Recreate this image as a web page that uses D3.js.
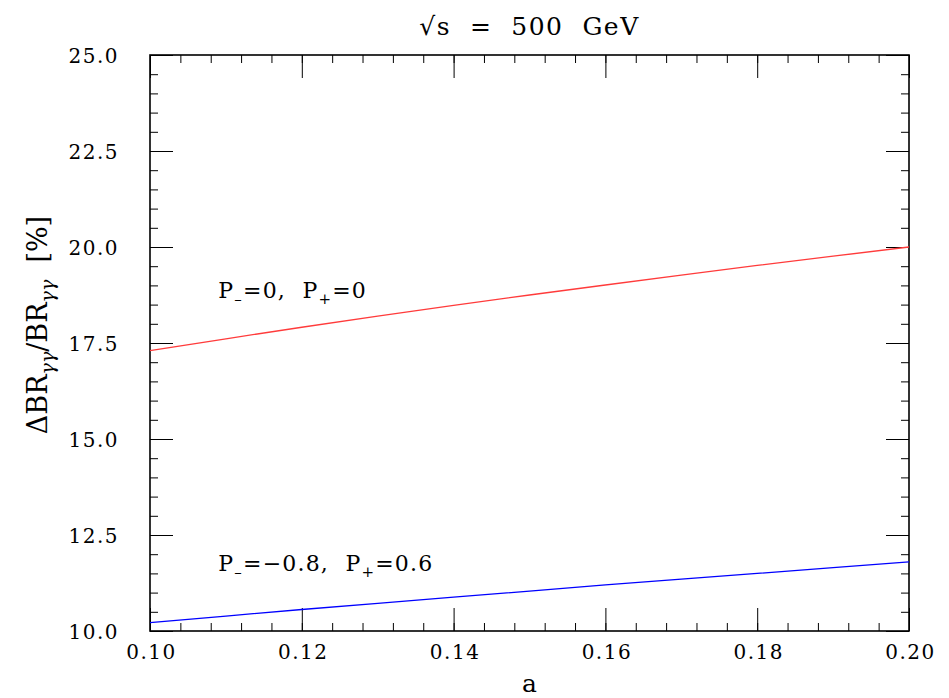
<!DOCTYPE html>
<html>
<head>
<meta charset="utf-8">
<script src="https://cdn.jsdelivr.net/npm/d3@7"></script>
<style>
  body { margin: 0; background: #fff; }
  text { font-family: "DejaVu Serif", "Liberation Serif", serif; fill: #000; }
</style>
</head>
<body>
<div id="chart"></div>
<script>
// data
var aValues = [0.10, 0.11, 0.12, 0.13, 0.14, 0.15, 0.16, 0.17, 0.18, 0.19, 0.20];
var unpolarized = [17.30, 17.61, 17.91, 18.20, 18.48, 18.75, 19.01, 19.27, 19.52, 19.76, 20.00];
var polarized = [10.22, 10.39, 10.56, 10.72, 10.88, 11.04, 11.20, 11.35, 11.50, 11.65, 11.80];

var xTicks = [0.10, 0.12, 0.14, 0.16, 0.18, 0.20];
var yTicks = [10.0, 12.5, 15.0, 17.5, 20.0, 22.5, 25.0];

// curve labels: [a, value] anchor of each label
var labelUnpol = { a: 0.109, v: 18.67 };
var labelPol = { a: 0.109, v: 11.55 };

var svgWidth = 949;
var svgHeight = 698;

var margin = { top: 55, right: 40, bottom: 67, left: 150 };
var width = 759;
var height = 576;

var svg = d3.select("#chart")
  .append("svg")
  .attr("width", svgWidth)
  .attr("height", svgHeight);

var chartGroup = svg.append("g")
  .attr("transform", `translate(${margin.left}, ${margin.top})`);

var xScale = d3.scaleLinear().domain([0.10, 0.20]).range([0, width]);
var yScale = d3.scaleLinear().domain([10, 25]).range([height, 0]);

var xMinor = d3.range(0, 26).map(i => 0.10 + i * 0.004);
var yMinor = d3.range(0, 31).map(i => 10 + i * 0.5);

function styleAxis(g) {
  g.select(".domain").remove();
  g.selectAll(".tick line").attr("stroke", "#000").attr("stroke-width", 1);
}

// minor ticks on all four sides
chartGroup.append("g")
  .attr("transform", `translate(0, ${height})`)
  .call(d3.axisBottom(xScale).tickValues(xMinor).tickSize(-8).tickFormat(""))
  .call(styleAxis);
chartGroup.append("g")
  .call(d3.axisTop(xScale).tickValues(xMinor).tickSize(-8).tickFormat(""))
  .call(styleAxis);
chartGroup.append("g")
  .call(d3.axisLeft(yScale).tickValues(yMinor).tickSize(-8).tickFormat(""))
  .call(styleAxis);
chartGroup.append("g")
  .attr("transform", `translate(${width}, 0)`)
  .call(d3.axisRight(yScale).tickValues(yMinor).tickSize(-8).tickFormat(""))
  .call(styleAxis);

// major ticks
var bottomAxis = chartGroup.append("g")
  .attr("transform", `translate(0, ${height})`)
  .call(d3.axisBottom(xScale).tickValues(xTicks).tickSize(-23).tickPadding(22).tickFormat(d3.format(".2f")))
  .call(styleAxis);
chartGroup.append("g")
  .call(d3.axisTop(xScale).tickValues(xTicks).tickSize(-23).tickFormat(""))
  .call(styleAxis);
var leftAxis = chartGroup.append("g")
  .call(d3.axisLeft(yScale).tickValues(yTicks).tickSize(-23).tickPadding(31).tickFormat(d3.format(".1f")))
  .call(styleAxis);
chartGroup.append("g")
  .attr("transform", `translate(${width}, 0)`)
  .call(d3.axisRight(yScale).tickValues(yTicks).tickSize(-23).tickFormat(""))
  .call(styleAxis);

bottomAxis.selectAll("text")
  .attr("font-size", 20)
  .attr("letter-spacing", 1.5)
  .attr("dx", 1)
  .attr("dy", "0.3em")
  .style("font-family", "DejaVu Serif");
leftAxis.selectAll("text")
  .attr("font-size", 20)
  .attr("letter-spacing", 1.5)
  .attr("dy", "0.38em")
  .style("font-family", "DejaVu Serif");

// frame
chartGroup.append("rect")
  .attr("width", width)
  .attr("height", height)
  .attr("fill", "none")
  .attr("stroke", "#000")
  .attr("stroke-width", 1.6);

// curves
var line = d3.line()
  .x((d, i) => xScale(aValues[i]))
  .y(d => yScale(d));

chartGroup.append("path")
  .datum(unpolarized)
  .attr("fill", "none")
  .attr("stroke", "#ff3b3b")
  .attr("stroke-width", 1.3)
  .attr("d", line);

chartGroup.append("path")
  .datum(polarized)
  .attr("fill", "none")
  .attr("stroke", "#0000ff")
  .attr("stroke-width", 1.3)
  .attr("d", line);

// curve labels
function polLabel(pos, pm, pp) {
  var t = chartGroup.append("text")
    .attr("x", xScale(pos.a))
    .attr("y", yScale(pos.v))
    .attr("font-size", 22)
    .attr("letter-spacing", 1.2)
    .attr("xml:space", "preserve");
  t.append("tspan").text("P");
  t.append("tspan").attr("font-size", 15).attr("dy", 6).text("\u2013");
  t.append("tspan").attr("dy", -6).text("=" + pm + ",  P");
  t.append("tspan").attr("font-size", 15).attr("dy", 6).text("+");
  t.append("tspan").attr("dy", -6).text("=" + pp);
}
polLabel(labelUnpol, "0", "0");
polLabel(labelPol, "\u22120.8", "0.6");

// title
svg.append("text")
  .attr("x", margin.left + width / 2)
  .attr("y", 35)
  .attr("text-anchor", "middle")
  .attr("font-size", 25)
  .attr("letter-spacing", 1.5)
  .attr("xml:space", "preserve")
  .text("\u221As  =  500  GeV");

// x label
svg.append("text")
  .attr("x", margin.left + width / 2)
  .attr("y", 692)
  .attr("text-anchor", "middle")
  .attr("font-size", 25)
  .text("a");

// y label
var yLabel = svg.append("text")
  .attr("text-anchor", "middle")
  .attr("transform", `translate(47, ${margin.top + height / 2 - 18})rotate(-90)`)
  .attr("font-size", 27)
  .attr("xml:space", "preserve");
yLabel.append("tspan").text("\u0394BR");
yLabel.append("tspan").attr("font-size", 19).attr("dy", 7).attr("font-style", "italic").text("\u03B3\u03B3");
yLabel.append("tspan").attr("dy", -7).text("/BR");
yLabel.append("tspan").attr("font-size", 19).attr("dy", 7).attr("font-style", "italic").text("\u03B3\u03B3");
yLabel.append("tspan").attr("dy", -7).text("  [%]");
</script>
</body>
</html>
